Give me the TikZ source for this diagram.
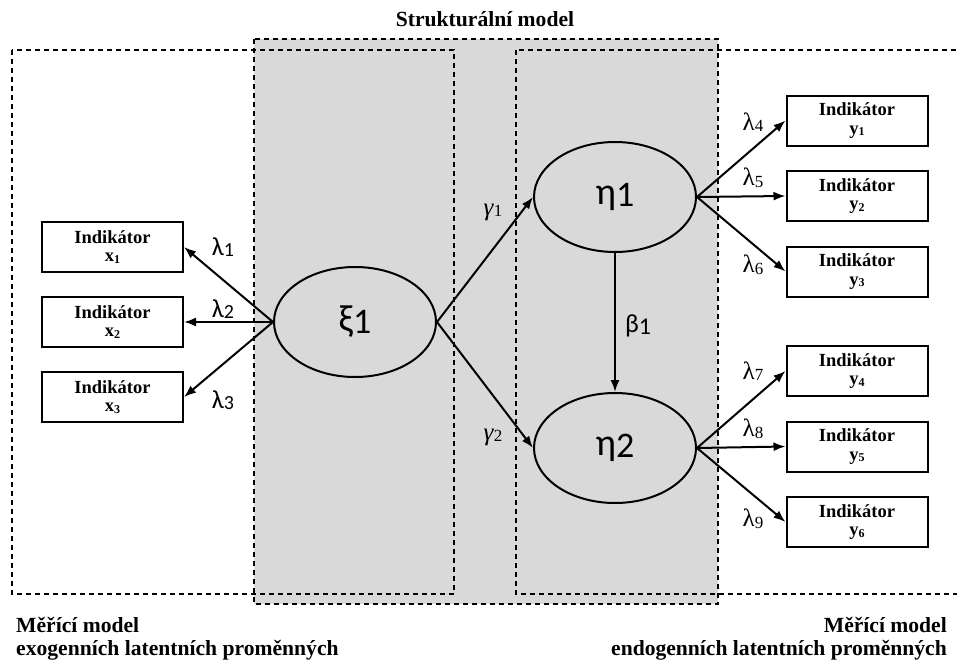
\documentclass[tikz,border=0pt]{standalone}
\usepackage{fontspec}
\setmainfont{Liberation Serif}
\newfontfamily\grkfont{Carlito}
\usetikzlibrary{shapes.geometric,arrows.meta}
\definecolor{panelgray}{HTML}{D9D9D9}
% small index digit set slightly below the baseline
\newcommand\subdig[2]{\raisebox{-1.5pt}{\fontsize{#1}{#1}\selectfont #2}}
\begin{document}
\begin{tikzpicture}[x=1pt,y=-1pt,
  ind/.style={draw, line width=2pt, fill=white, minimum width=141pt,
    minimum height=50pt, inner sep=0pt, align=center,
    font=\bfseries\fontsize{18.5}{18.5}\selectfont},
  lat/.style={ellipse, draw, line width=2pt, fill=panelgray,
    minimum width=162pt, minimum height=110pt, inner sep=0pt,
    font=\grkfont\fontsize{38}{38}\selectfont},
  arr/.style={-{Latex[length=12pt,width=9pt]}, line width=2pt},
  region/.style={dash pattern=on 5pt off 4pt, line width=2.3pt},
  coefsans/.style={inner sep=0pt, font=\grkfont\fontsize{26}{26}\selectfont},
  coefserif/.style={inner sep=0pt, font=\fontsize{25}{25}\selectfont},
  heading/.style={inner sep=0pt, font=\bfseries\fontsize{21.6}{24}\selectfont}]

\useasboundingbox (0,0) rectangle (957,661);
\clip (0,0) rectangle (957,661);

% structural part: grey panel
\fill[panelgray] (254,39) rectangle (718,604);

% dashed frames of the three sub-models
\draw[region] (12,50) rectangle (454,594);
\draw[region] (516,50) rectangle (975,594);
\draw[region] (254,39) rectangle (718,604);

% headings
\node[heading, anchor=base] (title) at (485,27) {Strukturální model};
\node[heading, anchor=base west] (exo1) at (16,632) {Měřící model};
\node[heading, anchor=base west] (exo2) at (16,655) {exogenních latentních proměnných};
\node[heading, anchor=base east] (endo1) at (947,632) {Měřící model};
\node[heading, anchor=base east] (endo2) at (947,655) {endogenních latentních proměnných};

% latent variables
\node[lat] (xi)   at (355,322) {ξ\subdig{36}{1}};
\node[lat] (eta1) at (615,197) {η\subdig{36}{1}};
\node[lat] (eta2) at (615,448) {η\subdig{36}{2}};

% indicators
\node[ind] (x1) at (112.5,247) {Indikátor\\x\subdig{12}{1}};
\node[ind] (x2) at (112.5,322) {Indikátor\\x\subdig{12}{2}};
\node[ind] (x3) at (112.5,397) {Indikátor\\x\subdig{12}{3}};
\node[ind] (y1) at (857,120.5) {Indikátor\\y\subdig{12}{1}};
\node[ind] (y2) at (857,196) {Indikátor\\y\subdig{12}{2}};
\node[ind] (y3) at (857,271.5) {Indikátor\\y\subdig{12}{3}};
\node[ind] (y4) at (857,371) {Indikátor\\y\subdig{12}{4}};
\node[ind] (y5) at (857,446.5) {Indikátor\\y\subdig{12}{5}};
\node[ind] (y6) at (857,522) {Indikátor\\y\subdig{12}{6}};

% loadings and paths
\draw[arr] (xi.west) -- (x1.east);
\draw[arr] (xi.west) -- (x2.east);
\draw[arr] (xi.west) -- (x3.east);
\draw[arr] (xi.east) -- (eta1.west);
\draw[arr] (xi.east) -- (eta2.west);
\draw[arr] (eta1.south) -- (eta2.north);
\draw[arr] (eta1.east) -- (y1.west);
\draw[arr] (eta1.east) -- (y2.west);
\draw[arr] (eta1.east) -- (y3.west);
\draw[arr] (eta2.east) -- (y4.west);
\draw[arr] (eta2.east) -- (y5.west);
\draw[arr] (eta2.east) -- (y6.west);

% coefficient labels
\node[coefsans] (l1) at (223,247) {λ\subdig{20}{1}};
\node[coefsans] (l2) at (223,309) {λ\subdig{20}{2}};
\node[coefsans] (l3) at (223,400) {λ\subdig{20}{3}};
\node[coefserif] (l4) at (753,122) {λ\subdig{17}{4}};
\node[coefserif] (l5) at (753,178) {λ\subdig{17}{5}};
\node[coefserif] (l6) at (753,265) {λ\subdig{17}{6}};
\node[coefserif] (l7) at (753,371) {λ\subdig{17}{7}};
\node[coefserif] (l8) at (753,429) {λ\subdig{17}{8}};
\node[coefserif] (l9) at (753,519) {λ\subdig{17}{9}};
\node[coefserif] (g1) at (493,212) {\textit{γ}\subdig{17}{1}};
\node[coefserif] (g2) at (493,437) {\textit{γ}\subdig{17}{2}};
\node[coefsans]  (b1) at (638,326) {β\subdig{24}{1}};
\end{tikzpicture}
\end{document}
